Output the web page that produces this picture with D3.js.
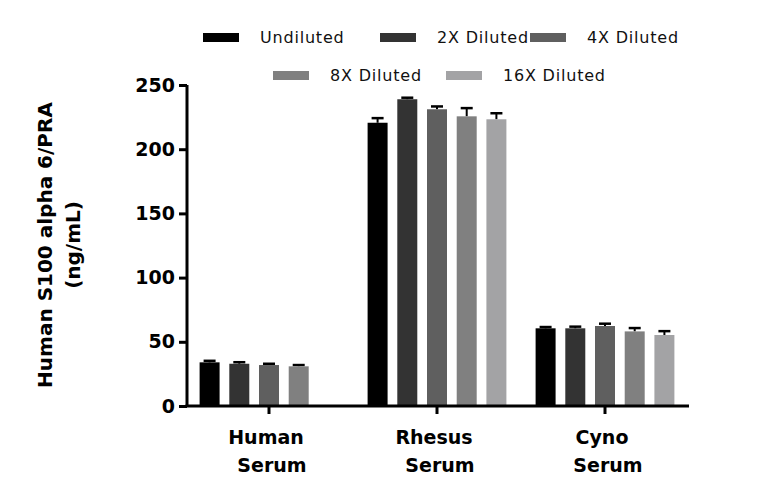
<!DOCTYPE html>
<html><head><meta charset="utf-8">
<script src="https://cdn.jsdelivr.net/npm/d3@7"></script>
<style>body{margin:0;background:#fff}text{font-family:"DejaVu Sans",sans-serif}</style>
</head><body>
<svg id="chart" width="768" height="504"></svg>
<script>
var groups = [["Human","Serum"],["Rhesus","Serum"],["Cyno","Serum"]];
var seriesNames = ["Undiluted","2X Diluted","4X Diluted","8X Diluted","16X Diluted"];
var colors = ["#000000","#333333","#5f5f5f","#808080","#a3a3a5"];
// values per group, null = not measured
var values = [[34.0,32.9,31.9,30.9,null],[220.6,238.9,231.1,225.6,223.3],[60.5,60.5,62.3,58.1,55.3]];
var errors = [[1.2,1.2,1.0,1.0,null],[3.6,1.2,2.2,6.4,4.7],[1.0,1.3,1.8,2.6,3.0]];
var yTicks = [0,50,100,150,200,250];

var svg = d3.select("#chart");
var left = 187, bottom = 406;
var y = d3.scaleLinear().domain([0,250]).range([bottom, bottom-250*1.284]);
var x0 = d3.scaleBand().domain(d3.range(3)).range([185,689]).paddingInner(0);
var x1 = d3.scaleBand().domain(d3.range(5)).range([0,138.8]).paddingInner(0.327);
var off = (168-138.8)/2;

var g = svg.append("g");
values.forEach(function(vals,gi){
  vals.forEach(function(v,si){
    if(v===null) return;
    var bx = x0(gi)+off+x1(si), bw = x1.bandwidth();
    var e = errors[gi][si];
    g.append("line").attr("x1",bx+bw/2).attr("x2",bx+bw/2).attr("y1",y(v)).attr("y2",y(v+e)).attr("stroke","#000").attr("stroke-width",2);
    g.append("line").attr("x1",bx+bw/2-6).attr("x2",bx+bw/2+6).attr("y1",y(v+e)).attr("y2",y(v+e)).attr("stroke","#000").attr("stroke-width",2.5);
    g.append("rect").attr("x",bx).attr("y",y(v)).attr("width",bw).attr("height",bottom-y(v)).attr("fill",colors[si]);
  });
});

var yAxis = svg.append("g").attr("transform","translate("+left+",0)")
  .call(d3.axisLeft(y).tickValues(yTicks).tickSize(8).tickPadding(4));
yAxis.select(".domain").attr("stroke-width",3).attr("d","M0,"+y(250)+"V"+bottom);
yAxis.selectAll(".tick line").attr("stroke-width",3);
yAxis.selectAll("text").attr("font-size",19).attr("font-weight","bold").attr("fill","#000");

var xAxis = svg.append("g");
xAxis.append("line").attr("x1",left-1.5).attr("x2",689).attr("y1",bottom).attr("y2",bottom).attr("stroke","#000").attr("stroke-width",3);
groups.forEach(function(lab,gi){
  var cx = x0(gi)+x0.bandwidth()/2;
  xAxis.append("line").attr("x1",cx).attr("x2",cx).attr("y1",bottom).attr("y2",bottom+8).attr("stroke","#000").attr("stroke-width",3);
  lab.forEach(function(t,li){
    xAxis.append("text").attr("x",cx+(li?3:-3)).attr("y",444+li*28).attr("text-anchor","middle")
      .attr("font-size",19).attr("font-weight","bold").text(t);
  });
});

svg.append("text").attr("transform","translate(52,245)rotate(-90)").attr("text-anchor","middle")
  .attr("font-size",20).attr("font-weight","bold").text("Human S100 alpha 6/PRA");
svg.append("text").attr("transform","translate(80,245)rotate(-90)").attr("text-anchor","middle")
  .attr("font-size",20).attr("font-weight","bold").text("(ng/mL)");

var legPos = [[203,37],[380,37],[530,37],[273,75],[446,75]];
seriesNames.forEach(function(n,i){
  var p = legPos[i];
  svg.append("rect").attr("x",p[0]).attr("y",p[1]-4).attr("width",36).attr("height",9).attr("fill",colors[i]);
  svg.append("text").attr("x",p[0]+57).attr("y",p[1]+6).attr("font-size",16).attr("letter-spacing",0.8).attr("fill","#111").text(n);
});
</script>
</body></html>
